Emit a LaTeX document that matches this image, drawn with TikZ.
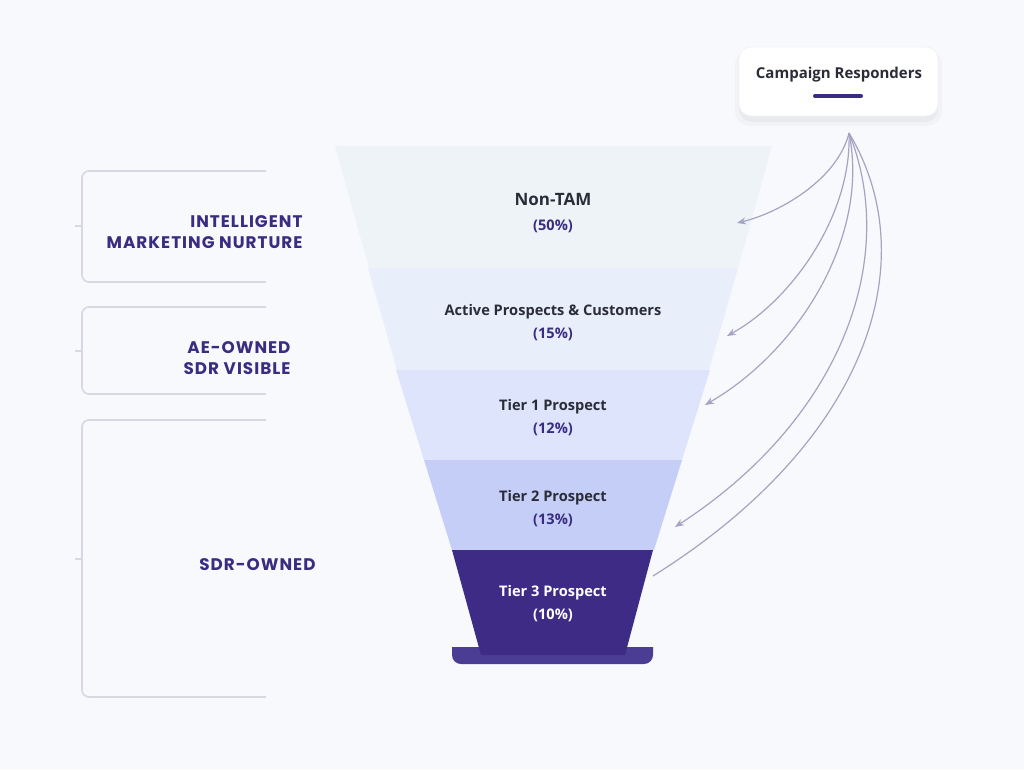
\documentclass[tikz,border=0pt]{standalone}
\usepackage{fontspec}
\setmainfont{Open Sans}
\newfontfamily\popb{Poppins}[LetterSpace=6]
\usetikzlibrary{arrows.meta}
\definecolor{bg}{HTML}{F8F9FD}
\definecolor{segA}{HTML}{EEF3F7}
\definecolor{segB}{HTML}{E9EEFB}
\definecolor{segC}{HTML}{DDE4FB}
\definecolor{segD}{HTML}{C5CEF7}
\definecolor{segE}{HTML}{3D2B86}
\definecolor{baseC}{HTML}{4B3D94}
\definecolor{ink}{HTML}{2A2C38}
\definecolor{purp}{HTML}{3A2C80}
\definecolor{brk}{HTML}{D6D9E3}
\definecolor{arr}{HTML}{A6A3C2}
\begin{document}
\begin{tikzpicture}[x=1pt,y=-1pt,
  segtext/.style={align=center,font=\fontsize{14.6}{23}\selectfont,text=ink},
  lab/.style={anchor=east,align=right,text=purp,font=\popb\bfseries\fontsize{16.8}{21.5}\selectfont},
  bracket/.style={draw=brk,line width=1.6pt,rounded corners=7pt},
  conn/.style={draw=arr,line width=1.2pt,-{Stealth[length=9pt,width=7pt]}},
  connplain/.style={draw=arr,line width=1.2pt}]
\useasboundingbox (0,0) rectangle (1024,769);
\fill[bg] (0,0) rectangle (1024,769);

% funnel
\fill[segA] (335,146) -- (772,146) -- (738,268) -- (369,268) -- cycle;
\fill[segB] (368,268) -- (738,268) -- (709,370) -- (397,370) -- cycle;
\fill[segC] (396,370) -- (710,370) -- (682,460) -- (424,460) -- cycle;
\fill[segD] (424,460) -- (682,460) -- (654,550) -- (452,550) -- cycle;
\fill[baseC] (452,647) -- (653,647) [rounded corners=9pt] -- (653,664) -- (452,664) [sharp corners] -- cycle;
\fill[segE] (452,550) -- (653,550) -- (625,655) -- (481,655) -- cycle;

\node[segtext,font=\fontsize{17}{27}\selectfont\bfseries] (nt) at (553,213) {Non-TAM\\[-2pt]{\fontsize{14.6}{20}\selectfont\color{purp}(50\%)}};
\node[segtext] (ap) at (553,323) {\textbf{Active Prospects \& Customers}\\{\bfseries\color{purp}(15\%)}};
\node[segtext] (t1) at (553,418) {\textbf{Tier 1 Prospect}\\{\bfseries\color{purp}(12\%)}};
\node[segtext] (t2) at (553,509) {\textbf{Tier 2 Prospect}\\{\bfseries\color{purp}(13\%)}};
\node[segtext,text=white] (t3) at (553,604) {\textbf{Tier 3 Prospect}\\{\bfseries(10\%)}};

% brackets
\draw[bracket] (266,171) -- (82,171) -- (82,282) -- (266,282);
\draw[bracket] (75,226) -- (82,226);
\draw[bracket] (266,307) -- (82,307) -- (82,394) -- (266,394);
\draw[bracket] (75,351) -- (82,351);
\draw[bracket] (266,420) -- (82,420) -- (82,697) -- (266,697);
\draw[bracket] (75,559) -- (82,559);

\node[lab] (l1) at (306,232) {INTELLIGENT\\MARKETING NURTURE};
\node[lab] (l2) at (294,358) {AE-OWNED\\SDR VISIBLE};
\node[lab] (l3) at (319,565) {SDR-OWNED};

% campaign responders box
\fill[black,opacity=0.035,rounded corners=13pt] (739,52) rectangle (938,122);
\fill[black,opacity=0.025,rounded corners=15pt] (735,50) rectangle (942,126);
\node[draw=black!5,line width=0.8pt,fill=white,rounded corners=12pt,minimum width=199pt,minimum height=69pt] (cr) at (838.5,81.5) {};
\node[text=ink,font=\fontsize{15}{17}\selectfont\bfseries] (crt) at (839,75) {Campaign Responders};
\draw[purp,line width=4pt,line cap=round] (815,96) -- (861,96);

% connectors
\coordinate (src) at (849,133);
\coordinate (e1) at (737,223);
\coordinate (e2) at (727,336);
\coordinate (e3) at (705,405);
\coordinate (e4) at (675,527);
\coordinate (e5) at (653,576);
\draw[conn] (src) .. controls (838,178) and (782,212) .. (e1);
\draw[conn] (src) .. controls (852,215) and (792,300) .. (e2);
\draw[conn] (src) .. controls (870,235) and (800,350) .. (e3);
\draw[conn] (src) .. controls (900,260) and (840,420) .. (e4);
\draw[connplain] (src) .. controls (925,260) and (870,440) .. (e5);
\end{tikzpicture}
\end{document}
